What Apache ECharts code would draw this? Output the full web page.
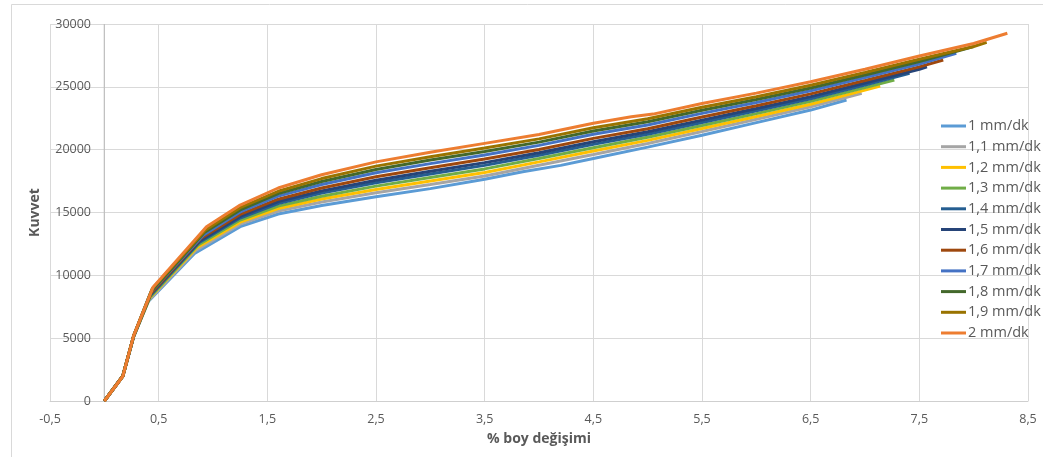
<!DOCTYPE html>
<html>
<head>
<meta charset="utf-8">
<script src="https://cdn.jsdelivr.net/npm/echarts@6/dist/echarts.min.js"></script>
<style>html,body{margin:0;padding:0;background:#fff}#c{width:1043px;height:457px}</style>
</head>
<body>
<div id="c"></div>
<script>
const seriesNames = ['1 mm/dk','1,1 mm/dk','1,2 mm/dk','1,3 mm/dk','1,4 mm/dk','1,5 mm/dk','1,6 mm/dk','1,7 mm/dk','1,8 mm/dk','1,9 mm/dk','2 mm/dk'];
const xTicks = [-0.5, 0.5, 1.5, 2.5, 3.5, 4.5, 5.5, 6.5, 7.5, 8.5];
const yTicks = [0, 5000, 10000, 15000, 20000, 25000, 30000];

const s10 = [[0,0],[0.17,1950],[0.27,5100],[0.40,7880],[0.83,11740],[1.25,13870],[1.6,14880],[2.0,15560],[2.5,16250],[3.0,16900],[3.5,17650],[3.85,18250],[4.2,18750],[4.5,19300],[5.0,20200],[5.5,21150],[6.0,22150],[6.5,23150],[6.83,23950]];
const s11 = [[0,0],[0.17,1960],[0.27,5120],[0.41,8020],[0.84,11980],[1.25,14070],[1.6,15120],[2.0,15840],[2.5,16570],[3.0,17230],[3.5,17910],[4.0,18760],[4.5,19620],[5.0,20490],[5.5,21440],[6.0,22420],[6.5,23410],[6.97,24480]];
const s12 = [[0,0],[0.17,1970],[0.27,5140],[0.41,8130],[0.85,12190],[1.25,14230],[1.6,15320],[2.0,16070],[2.5,16830],[3.0,17510],[3.5,18190],[4.0,19030],[4.5,19890],[5.0,20740],[5.5,21680],[6.0,22640],[6.5,23620],[7.0,24740],[7.14,25060]];
const s13 = [[0,0],[0.17,1980],[0.27,5150],[0.42,8250],[0.86,12390],[1.25,14400],[1.6,15510],[2.0,16300],[2.5,17100],[3.0,17790],[3.5,18470],[4.0,19290],[4.5,20150],[5.0,20990],[5.5,21920],[6.0,22870],[6.5,23840],[7.0,24940],[7.27,25540]];
const s14 = [[0,0],[0.17,1980],[0.27,5160],[0.42,8360],[0.87,12590],[1.25,14560],[1.6,15710],[2.0,16540],[2.5,17360],[3.0,18060],[3.5,18750],[4.0,19550],[4.5,20420],[5.0,21230],[5.5,22160],[6.0,23090],[6.5,24050],[7.0,25140],[7.41,26070]];
const s15 = [[0,0],[0.17,1990],[0.27,5170],[0.42,8450],[0.88,12750],[1.25,14690],[1.6,15870],[2.0,16720],[2.5,17570],[3.0,18280],[3.5,18970],[4.0,19760],[4.5,20630],[5.0,21430],[5.5,22350],[6.0,23270],[6.5,24220],[7.0,25300],[7.5,26400],[7.57,26600]];
const s16 = [[0,0],[0.17,1990],[0.27,5180],[0.43,8570],[0.89,12950],[1.25,14850],[1.6,16060],[2.0,16950],[2.5,17840],[3.0,18560],[3.5,19250],[4.0,20020],[4.5,20900],[5.0,21670],[5.5,22600],[6.0,23490],[6.5,24440],[7.0,25500],[7.5,26590],[7.72,27130]];
const s17 = [[0,0],[0.17,2000],[0.27,5190],[0.43,8700],[0.91,13190],[1.25,15050],[1.6,16300],[2.0,17230],[2.5,18160],[3.0,18890],[3.5,19580],[4.0,20340],[4.5,21220],[5.0,21970],[5.5,22890],[6.0,23760],[6.5,24690],[7.0,25740],[7.5,26820],[7.84,27670]];
const s18 = [[0,0],[0.17,2000],[0.27,5190],[0.44,8820],[0.92,13400],[1.25,15210],[1.6,16500],[2.0,17470],[2.5,18420],[3.0,19170],[3.5,19860],[4.0,20600],[4.5,21490],[5.0,22220],[5.5,23130],[6.0,23990],[6.5,24910],[7.0,25940],[7.5,27010],[8.0,28200]];
const s19 = [[0,0],[0.17,1990],[0.27,5200],[0.44,8930],[0.93,13600],[1.25,15380],[1.6,16690],[2.0,17700],[2.5,18690],[3.0,19440],[3.5,20140],[4.0,20860],[4.5,21750],[5.0,22460],[5.5,23370],[6.0,24210],[6.5,25120],[7.0,26140],[7.5,27200],[8.0,28210],[8.12,28540]];
const s20 = [[0,0],[0.17,1970],[0.27,5200],[0.45,9080],[0.94,13860],[1.25,15590],[1.6,16950],[2.0,18000],[2.5,19030],[3.0,19800],[3.5,20500],[4.0,21200],[4.5,22100],[4.85,22620],[5.05,22830],[5.5,23680],[6.0,24500],[6.5,25400],[7.0,26400],[7.5,27450],[8.0,28450],[8.31,29260]];

const seriesData = [s10, s11, s12, s13, s14, s15, s16, s17, s18, s19, s20];
const colors = ['#5B9BD5','#A5A5A5','#FFC000','#70AD47','#255E91','#264478','#9E480E','#4472C4','#43682B','#997300','#ED7D31'];
const yAxisAtX = 0;
const yAxisLine = [[yAxisAtX, yTicks[0]], [yAxisAtX, yTicks[yTicks.length - 1]]];

const FONT = 'Open Sans';
const chart = echarts.init(document.getElementById('c'), null, {renderer: 'canvas'});
chart.setOption({
  animation: false,
  backgroundColor: '#fff',
  color: colors,
  graphic: [{
    type: 'rect', left: 9, top: 2, z: -10, silent: true,
    shape: {width: 1040, height: 453},
    style: {fill: 'none', stroke: '#d9d9d9', lineWidth: 1}
  }],
  grid: {left: 50, right: 15, top: 24, bottom: 56, containLabel: false, outerBoundsMode: 'none'},
  legend: {
    orient: 'vertical', left: 941, top: 118, padding: 0,
    itemWidth: 25, itemHeight: 3, itemGap: 4.7, icon: 'rect',
    textStyle: {fontFamily: FONT, fontSize: 14.5, color: '#595959', lineHeight: 16, padding: [0, 0, 0, -3]},
    data: seriesNames
  },
  xAxis: {
    type: 'value', min: xTicks[0], max: xTicks[xTicks.length - 1], interval: 1,
    name: '% boy değişimi', nameLocation: 'middle', nameGap: 31,
    nameTextStyle: {fontFamily: FONT, fontSize: 14, fontWeight: 'bold', color: '#595959'},
    axisLine: {show: true, onZero: false, lineStyle: {color: '#cfcfcf', width: 1}},
    axisTick: {show: false},
    splitLine: {show: true, lineStyle: {color: '#d9d9d9', width: 1}},
    axisLabel: {fontFamily: FONT, fontSize: 12.5, color: '#595959', margin: 12,
      formatter: v => String(v).replace('.', ',')}
  },
  yAxis: {
    type: 'value', min: yTicks[0], max: yTicks[yTicks.length - 1], interval: 5000,
    name: 'Kuvvet', nameLocation: 'middle', nameGap: 2,
    nameTextStyle: {fontFamily: FONT, fontSize: 14, fontWeight: 'bold', color: '#595959'},
    axisLine: {show: false, onZero: false},
    axisTick: {show: false},
    splitLine: {show: true, lineStyle: {color: '#d9d9d9', width: 1}},
    axisLabel: {fontFamily: FONT, fontSize: 12.5, color: '#595959', margin: -41,
      formatter: v => String(v)}
  },
  series: [{
    name: '__yaxis', type: 'line', data: yAxisLine, silent: true, z: 1,
    symbol: 'none', showSymbol: false, legendHoverLink: false,
    lineStyle: {color: '#bdbdbd', width: 1.2}, itemStyle: {color: '#bdbdbd'},
    emphasis: {disabled: true}, tooltip: {show: false}
  }].concat(seriesNames.map((n, i) => ({
    name: n, type: 'line', data: seriesData[i], symbol: 'none', showSymbol: false,
    smooth: false, lineStyle: {width: 3, color: colors[i]}, itemStyle: {color: colors[i]},
    z: 3 + i * 0.01
  })))
});
</script>
</body>
</html>
